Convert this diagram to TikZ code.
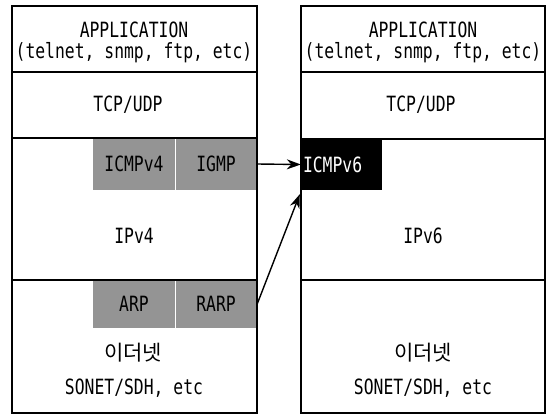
\documentclass[tikz,border=0pt]{standalone}
\usepackage{fontspec}
\newfontfamily\lat[FakeStretch=0.78]{DejaVu Sans Mono}
\newfontfamily\kor{Noto Sans CJK KR}
\usetikzlibrary{arrows.meta}
\begin{document}
\begin{tikzpicture}[x=1pt,y=-1pt,
  txt/.style={font=\lat\fontsize{21}{24}\selectfont, inner sep=0pt},
  ktxt/.style={font=\kor\fontsize{21}{24}\selectfont, inner sep=0pt},
  shade/.style={fill=black!42, draw=none, inner sep=0pt, font=\lat\fontsize{21}{24}\selectfont, text=black},
  dark/.style={fill=black, draw=none, inner sep=0pt, font=\lat\fontsize{21}{24}\selectfont, text=white},
  outer/.style={line width=2.4pt},
  inner/.style={line width=1.3pt},
  arr/.style={line width=1.4pt, -{Stealth[length=14pt,width=10pt]}}]
\useasboundingbox (0,0) rectangle (548,418);
\fill[white] (0,0) rectangle (548,418);
% left stack shaded cells
\node[shade, minimum width=82pt, minimum height=52pt] (icmp4) at (134,164) {ICMPv4};
\node[shade, minimum width=82pt, minimum height=52pt] (igmp) at (216,164) {IGMP};
\node[shade, minimum width=82pt, minimum height=48pt] (arp) at (134,304) {ARP};
\node[shade, minimum width=82pt, minimum height=48pt] (rarp) at (216,304) {RARP};
\draw[white, line width=1pt] (175,138) -- (175,190) (175,280) -- (175,328);
% right stack dark cell
\node[dark, minimum width=81pt, minimum height=51pt, text width=77pt, align=left] (icmp6) at (341.5,164.5) {ICMPv6};
% left frame
\draw[inner] (12,72) -- (257,72) (12,138) -- (257,138) (12,280) -- (257,280);
\draw[outer] (12,6) rectangle (257,413);
% right frame
\draw[inner] (301,72) -- (545,72) (301,139) -- (545,139) (301,280) -- (545,280);
\draw[outer] (301,6) rectangle (545,413);
% left texts
\node[txt] (lapp) at (134,30) {APPLICATION};
\node[txt] (lapp2) at (134,53) {(telnet, snmp, ftp, etc)};
\node[txt] (ltcp) at (128,105) {TCP/UDP};
\node[txt] (lip) at (134,236) {IPv4};
\node[ktxt] (leth) at (133,353) {이더넷};
\node[txt] (lson) at (134,388) {SONET/SDH, etc};
% right texts
\node[txt] (rapp) at (423,30) {APPLICATION};
\node[txt] (rapp2) at (423,53) {(telnet, snmp, ftp, etc)};
\node[txt] (rtcp) at (421,105) {TCP/UDP};
\node[txt] (rip) at (423,236) {IPv6};
\node[ktxt] (reth) at (423,353) {이더넷};
\node[txt] (rson) at (423,388) {SONET/SDH, etc};
% arrows
\draw[arr] (igmp.east) -- (icmp6.west);
\draw[arr] (rarp.east) -- ([xshift=-1pt,yshift=-4pt]icmp6.south west);
\end{tikzpicture}
\end{document}
